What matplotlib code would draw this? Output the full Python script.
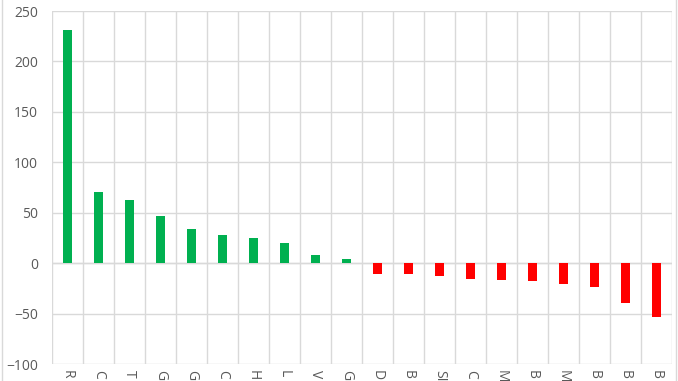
import matplotlib.pyplot as plt
import numpy as np

# data
labels = ["R", "C", "T", "G", "G", "C", "H", "L", "V", "G",
          "D", "B", "SI", "C", "M", "B", "M", "B", "B", "B"]
values = [231, 70.5, 63, 47, 33.5, 27.5, 24.5, 20, 8, 4,
          -10.5, -10.5, -12.5, -15.5, -17, -17.5, -21, -23.5, -39.5, -53.5]

colors = ["#00B050" if v >= 0 else "#FF0000" for v in values]
x = np.arange(len(values))

plt.rcParams['font.family'] = ['Open Sans', 'DejaVu Sans']

fig = plt.figure(figsize=(6.78, 3.81), dpi=100)
ax = fig.add_axes([52 / 678, 1 - 364 / 381, 620 / 678, 353 / 381])

ax.bar(x, values, width=0.32, color=colors, zorder=3)

ax.set_xlim(-0.5, len(values) - 0.5)
ax.set_ylim(-100, 250)
ax.set_yticks(range(-100, 251, 50))
ax.set_xticks(x)
ax.set_xticklabels(labels, rotation=-90, va="top", ha="center")
ax.set_xticks(np.arange(-0.5, len(values), 1), minor=True)

ax.grid(axis="y", color="#D9D9D9", linewidth=1, zorder=0)
ax.grid(axis="x", which="minor", color="#D9D9D9", linewidth=1, zorder=0)
ax.grid(axis="x", which="major", visible=False)
ax.axhline(0, color="#D9D9D9", linewidth=1, zorder=1)

for s in ax.spines.values():
    s.set_visible(False)
ax.tick_params(axis="both", which="both", length=0, colors="#595959", labelsize=10)
ax.tick_params(axis="y", pad=10)
ax.tick_params(axis="x", pad=4)

# outer chart border
fig.patches.append(plt.Rectangle((0.003, -0.01), 0.994, 1.02, transform=fig.transFigure,
                                 fill=False, edgecolor="#D9D9D9", linewidth=1))

fig.savefig("out.png", dpi=100)
